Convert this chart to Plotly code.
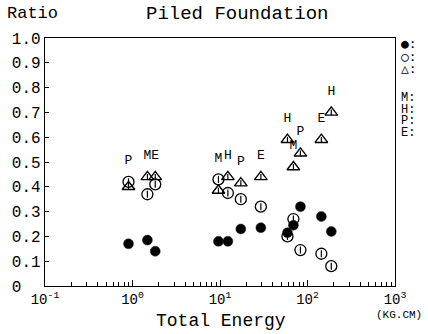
import plotly.graph_objects as go

# ---- data ----
groups = ["P", "M", "E", "M", "H", "P", "E", "H", "M", "P", "E", "H"]
energy = [0.9, 1.48, 1.82, 9.6, 12.3, 17.3, 29.3, 59, 69, 83, 144, 187]
filled_ratio = [0.17, 0.185, 0.14, 0.18, 0.18, 0.23, 0.235, 0.215, 0.245, 0.32, 0.28, 0.22]
open_ratio = [0.42, 0.37, 0.41, 0.43, 0.375, 0.35, 0.32, 0.20, 0.27, 0.145, 0.13, 0.08]
tri_ratio = [0.40, 0.44, 0.44, 0.385, 0.44, 0.415, 0.44, 0.59, 0.48, 0.535, 0.59, 0.70]

y_ticks = [0.0, 0.1, 0.2, 0.3, 0.4, 0.5, 0.6, 0.7, 0.8, 0.9, 1.0]
y_ticktext = ["0\u00a0\u00a0", "0.1", "0.2", "0.3", "0.4", "0.5", "0.6", "0.7", "0.8", "0.9", "1.0"]
x_decades = [0.1, 1, 10, 100, 1000]
x_ticktext = ["10<sup>-1</sup>", "10<sup>0</sup>", "10<sup>1</sup>", "10<sup>2</sup>", "10<sup>3</sup>"]
x_minor = [m * d for d in [0.1, 1, 10, 100] for m in range(2, 10)]

legend_symbols = ["●:", "○:", "△:"]
legend_letters = ["M:", "H:", "P:", "E:"]

MONO = "Liberation Mono"
label_y = [max(a, b) + 0.085 for a, b in zip(tri_ratio, open_ratio)]

fig = go.Figure()
# triangles
fig.add_trace(go.Scatter(x=energy, y=tri_ratio, mode="markers",
                         marker=dict(symbol="triangle-up-open", size=11, color="black",
                                     line=dict(width=1.4, color="black"))))
fig.add_trace(go.Scatter(x=energy, y=tri_ratio, mode="markers",
                         marker=dict(symbol="line-ns", size=4, color="black",
                                     line=dict(width=1.2, color="black"))))
# open circles
fig.add_trace(go.Scatter(x=energy, y=open_ratio, mode="markers",
                         marker=dict(symbol="circle-open", size=11, color="black",
                                     line=dict(width=1.3, color="black"))))
fig.add_trace(go.Scatter(x=energy, y=open_ratio, mode="markers",
                         marker=dict(symbol="line-ns", size=5, color="black",
                                     line=dict(width=1.2, color="black"))))
# filled circles
fig.add_trace(go.Scatter(x=energy, y=filled_ratio, mode="markers",
                         marker=dict(symbol="circle", size=10, color="black",
                                     line=dict(width=0.5, color="#333"))))
# group labels
fig.add_trace(go.Scatter(x=energy, y=label_y, mode="text", text=groups,
                         textposition="middle center",
                         textfont=dict(family=MONO, size=13, color="black")))

fig.update_layout(
    width=428, height=334,
    margin=dict(l=43, r=33, t=38, b=48),
    paper_bgcolor="white", plot_bgcolor="white",
    showlegend=False,
    font=dict(family=MONO, color="black"),
)
fig.update_xaxes(
    type="log", range=[-1, 3],
    showline=True, linecolor="black", linewidth=1.3, mirror=True,
    showgrid=False, zeroline=False,
    tickmode="array", tickvals=x_decades, ticktext=x_ticktext,
    ticks="inside", ticklen=6, tickcolor="black", tickwidth=1,
    tickfont=dict(family=MONO, size=14, color="black"),
    minor=dict(tickmode="array", tickvals=x_minor, ticks="inside", ticklen=4,
               tickcolor="black", tickwidth=1, showgrid=False),
)
fig.update_yaxes(
    range=[0, 1.0],
    showline=True, linecolor="black", linewidth=1.3, mirror=True,
    showgrid=False, zeroline=False,
    tickmode="array", tickvals=y_ticks, ticktext=y_ticktext,
    ticks="inside", ticklen=4, tickcolor="black", tickwidth=1,
    tickfont=dict(family=MONO, size=16, color="black"),
)


def note(text, x, y, size, family=MONO, xanchor="center"):
    return dict(text=text, x=x, y=y, xref="x domain", yref="y domain",
                xanchor=xanchor, yanchor="middle", showarrow=False,
                font=dict(family=family, size=size, color="black"))


ann = [
    note("Piled Foundation", 0.548, 1.097, 19),
    note("Ratio", -0.037, 1.097, 17),
    note("Total Energy", 0.503, -0.14, 18),
    note("(KG.CM)", 1.01, -0.115, 11),
]
for i, s in enumerate(legend_symbols):
    ann.append(note(s, 1.01, 0.976 - i * 0.049, 13, family="DejaVu Sans Mono", xanchor="left"))
for i, s in enumerate(legend_letters):
    ann.append(note(s, 1.012, 0.758 - i * 0.047, 12, xanchor="left"))
fig.update_layout(annotations=ann)

fig.write_html("out.html", config={"displayModeBar": False},
               post_script="document.body.style.margin='0';")
